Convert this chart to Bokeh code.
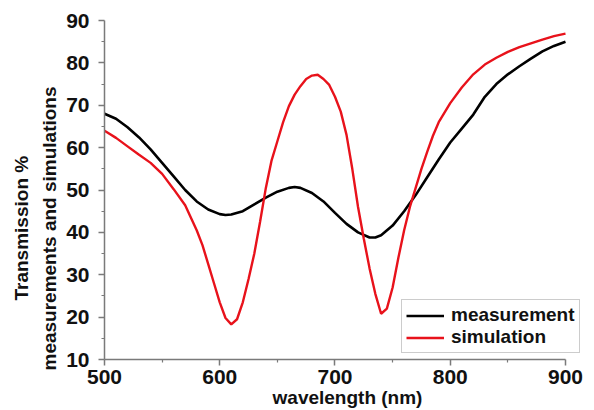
from bokeh.plotting import figure
from bokeh.models import Legend, LegendItem, FixedTicker, Title
from bokeh.embed import file_html
from bokeh.resources import INLINE

wl_meas = [500, 510, 520, 530, 540, 550, 560, 570, 580, 590, 600, 605, 610, 620, 630, 640, 650, 660, 665,
           670, 680, 690, 700, 710, 720, 730, 735, 740, 750, 760, 770, 780, 790, 800, 810, 820, 830,
           840, 850, 860, 870, 880, 890, 900]
measurement = [68.0, 66.8, 64.8, 62.4, 59.6, 56.4, 53.2, 50.0, 47.3, 45.4, 44.3, 44.1, 44.2, 45.0, 46.6,
               48.2, 49.6, 50.5, 50.7, 50.5, 49.3, 47.3, 44.6, 42.0, 40.0, 38.8, 38.8, 39.3, 41.6, 45.0,
               48.8, 53.0, 57.2, 61.2, 64.5, 67.8, 72.0, 75.0, 77.3, 79.2, 81.0, 82.7, 84.0, 85.0]

wl_sim = [500, 510, 520, 530, 540, 550, 560, 570, 580, 585, 590, 595, 600, 605, 610, 615, 620, 625, 630,
          635, 640, 645, 650, 655, 660, 665, 670, 675, 680, 685, 690, 695, 700, 705, 710, 715, 720, 725,
          730, 735, 740, 745, 750, 755, 760, 765, 770, 775, 780, 785, 790, 800, 810, 820, 830, 840, 850,
          860, 870, 880, 890, 900]
simulation = [64.0, 62.3, 60.3, 58.3, 56.4, 53.8, 50.2, 46.4, 40.5, 37.0, 32.5, 28.0, 23.5, 19.8, 18.3,
              19.5, 23.5, 29.0, 35.0, 42.5, 50.5, 57.0, 61.5, 66.0, 69.8, 72.5, 74.5, 76.2, 77.0, 77.2,
              76.2, 74.8, 72.0, 68.5, 63.0, 55.0, 46.0, 38.5, 31.5, 25.5, 20.8, 22.0, 27.0, 34.0, 40.5,
              46.0, 50.5, 55.0, 59.0, 62.8, 66.0, 70.5, 74.2, 77.3, 79.6, 81.2, 82.6, 83.7, 84.6, 85.5,
              86.3, 86.9]

x_ticks = [500, 600, 700, 800, 900]
x_minor = [550, 650, 750, 850]
y_ticks = [10, 20, 30, 40, 50, 60, 70, 80, 90]
y_minor = [15, 25, 35, 45, 55, 65, 75, 85]

FONT = "Liberation Sans"

# frame extends a little past 900 so the legend box (which overhangs the axis end) is not clipped
p = figure(width=594, height=410, x_range=(500, 921.7), y_range=(10, 90),
           output_backend="svg", toolbar_location=None,
           min_border_left=104, min_border_right=4, min_border_top=20, min_border_bottom=51)
p.outline_line_color = None
p.grid.visible = False
p.background_fill_color = "white"
p.border_fill_color = "white"

r1 = p.line(wl_meas, measurement, line_color="black", line_width=2.6)
r2 = p.line(wl_sim, simulation, line_color="#e8121b", line_width=2.4)

for ax in (p.xaxis[0], p.yaxis[0]):
    ax.axis_line_color = "#7a7a7a"
    ax.axis_line_width = 1.5
    ax.major_tick_line_color = "#7a7a7a"
    ax.minor_tick_line_color = "#7a7a7a"
    ax.major_tick_line_width = 1.5
    ax.minor_tick_line_width = 1.2
    ax.major_tick_out = 6
    ax.major_tick_in = 0
    ax.minor_tick_out = 3
    ax.minor_tick_in = 0
    ax.major_label_text_font = FONT
    ax.major_label_text_font_style = "bold"
    ax.major_label_text_font_size = "21px"
    ax.major_label_text_color = "#111111"
    ax.axis_label_text_font = FONT
    ax.axis_label_text_font_style = "bold"
    ax.axis_label_text_font_size = "19px"
    ax.axis_label_text_color = "#111111"

p.xaxis[0].ticker = FixedTicker(ticks=x_ticks, minor_ticks=x_minor)
p.xaxis[0].bounds = (500, 900)
p.yaxis[0].ticker = FixedTicker(ticks=y_ticks, minor_ticks=y_minor)
p.xaxis[0].axis_label = "wavelength (nm)"
p.xaxis[0].axis_label_standoff = 0
p.xaxis[0].major_label_standoff = 4
p.yaxis[0].major_label_standoff = 9

# two-line y label, shifted slightly downward as in the reference
t2 = Title(text="measurements and simulations", align="left", offset=-11,
           text_font=FONT, text_font_style="bold", text_font_size="19px",
           text_color="#111111", standoff=8)
t1 = Title(text="Transmission %", align="left", offset=59,
           text_font=FONT, text_font_style="bold", text_font_size="19px",
           text_color="#111111", standoff=2)
p.add_layout(t2, "left")
p.add_layout(t1, "left")

legend = Legend(items=[LegendItem(label="measurement", renderers=[r1]),
                       LegendItem(label="simulation", renderers=[r2])],
                location=(297, 6))
legend.label_text_font = FONT
legend.label_text_font_style = "bold"
legend.label_text_font_size = "19px"
legend.label_text_color = "#111111"
legend.border_line_color = "#9a9a9a"
legend.border_line_width = 1.2
legend.background_fill_alpha = 1
legend.glyph_width = 38
legend.glyph_height = 21
legend.label_height = 21
legend.spacing = 0
legend.padding = 4
legend.margin = 0
legend.label_standoff = 7
legend.label_text_line_height = 1.0
p.add_layout(legend)

open("out.html", "w").write(file_html(p, INLINE))
